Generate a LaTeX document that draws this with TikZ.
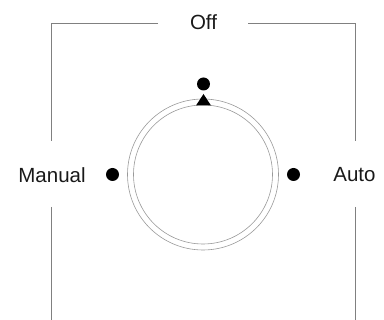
\documentclass[tikz,border=0pt]{standalone}
\usepackage{fontspec}
\setmainfont{Liberation Sans}
\tikzset{
  frameline/.style={draw=black!50,line width=0.9pt},
  ringline/.style={draw=black!40,line width=0.6pt},
  lamp/.style={circle,fill=black,inner sep=0pt,minimum size=13pt},
  lbl/.style={inner sep=0pt,font=\fontsize{20.5}{24}\selectfont,text=black!90}
}
\begin{document}
\begin{tikzpicture}[x=1pt,y=-1pt]
\useasboundingbox (0,0) rectangle (384,320);
\node[lbl] (off) at (203.5,22.5) {Off};
\node[lbl] (manual) at (52,175) {Manual};
\node[lbl] (auto) at (354.5,175) {Auto};
\coordinate (tlA) at (158,23.5);
\coordinate (tlB) at (51.5,23.5);
\coordinate (tlC) at (51.5,141);
\coordinate (trA) at (248,23.5);
\coordinate (trB) at (355,23.5);
\coordinate (trC) at (355,141);
\coordinate (blA) at (51.5,207);
\coordinate (blB) at (51.5,320);
\coordinate (brA) at (355,207);
\coordinate (brB) at (355,320);
\draw[frameline] (tlA) -- (tlB) -- (tlC);
\draw[frameline] (trA) -- (trB) -- (trC);
\draw[frameline] (blA) -- (blB);
\draw[frameline] (brA) -- (brB);
\coordinate (c) at (203,174.5);
\draw[ringline] (c) circle[radius=75.5];
\draw[ringline] (c) circle[radius=69.5];
\node[lamp] (ltop) at (203.5,84) {};
\node[lamp] (lleft) at (112.5,174.5) {};
\node[lamp] (lright) at (293.5,174.5) {};
\fill[black] (196,105.5) -- (203.5,94) -- (211,105.5) -- cycle;
\end{tikzpicture}
\end{document}
